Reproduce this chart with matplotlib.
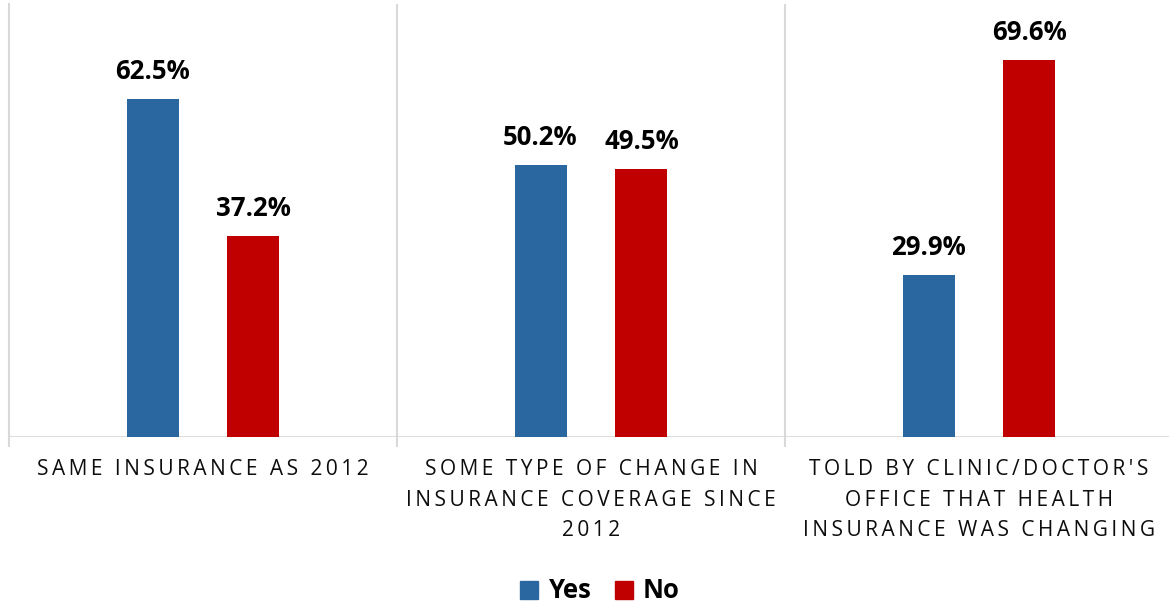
import matplotlib
matplotlib.use("Agg")
import numpy as np
import matplotlib.pyplot as plt
from matplotlib.patches import Patch

# survey answers, percent of respondents
categories = [
    ["SAME INSURANCE AS 2012"],
    ["SOME TYPE OF CHANGE IN", "INSURANCE COVERAGE SINCE", "2012"],
    ["TOLD BY CLINIC/DOCTOR'S", "OFFICE THAT HEALTH", "INSURANCE WAS CHANGING"],
]
yes_vals = [62.5, 50.2, 29.9]
no_vals = [37.2, 49.5, 69.6]
series_names = ["Yes", "No"]

blue = "#2A67A0"
red = "#C00000"
grid_col = "#D9D9D9"

plt.rcParams["font.family"] = ["Open Sans", "DejaVu Sans"]

fig = plt.figure(figsize=(11.69, 6.05), dpi=100)
W, H = 1169.0, 605.0
ax = fig.add_axes([9 / W, (H - 437) / H, 1164 / W, 433 / H])

x = np.arange(len(categories))
off = 0.13
bw = 0.134
b1 = ax.bar(x - off, yes_vals, bw, color=blue, zorder=3)
b2 = ax.bar(x + off, no_vals, bw, color=red, zorder=3)

ax.set_xlim(-0.5, len(categories) - 0.5)
ax.set_ylim(0, 80)

for s in ["top", "right", "bottom"]:
    ax.spines[s].set_visible(False)
ax.spines["left"].set_color(grid_col)
ax.spines["left"].set_linewidth(1.5)
ax.set_yticks([])
ax.set_xticks([])

# separators between groups, baseline and the small ticks under it
for b in np.arange(0.5, len(categories), 1.0):
    ax.axvline(b, color=grid_col, lw=1.5, zorder=1)
ax.axhline(0, color=grid_col, lw=2, zorder=2)
for b in np.arange(-0.5, len(categories) + 0.5, 1.0):
    ax.plot([b, b], [0, -1.6], color=grid_col, lw=1.5, clip_on=False, zorder=1)

# value labels
for bars, vals in [(b1, yes_vals), (b2, no_vals)]:
    for r, v in zip(bars, vals):
        ax.annotate(f"{v:.1f}%", xy=(r.get_x() + r.get_width() / 2, v),
                    xytext=(0, 20), textcoords="offset pixels",
                    ha="center", va="baseline", fontsize=18.5,
                    fontweight="bold", color="black")

# category labels with wide letter spacing
for i, lines in enumerate(categories):
    txt = "\n".join("\u2009".join(l) for l in lines)
    ax.annotate(txt, xy=(i, 0), xycoords="data", xytext=(0, -22),
                textcoords="offset pixels", ha="center", va="top",
                fontsize=15.0, color="#0D0D0D", linespacing=1.6,
                annotation_clip=False)

handles = [Patch(color=blue), Patch(color=red)]
fig.legend(handles, series_names, loc="center", bbox_to_anchor=(600 / W, 1 - 591 / H),
           ncol=2, frameon=False, handlelength=0.7, handleheight=0.7,
           handletextpad=0.4, columnspacing=0.9,
           prop={"size": 18.5, "weight": "bold"})

fig.savefig("out.png", dpi=100)
